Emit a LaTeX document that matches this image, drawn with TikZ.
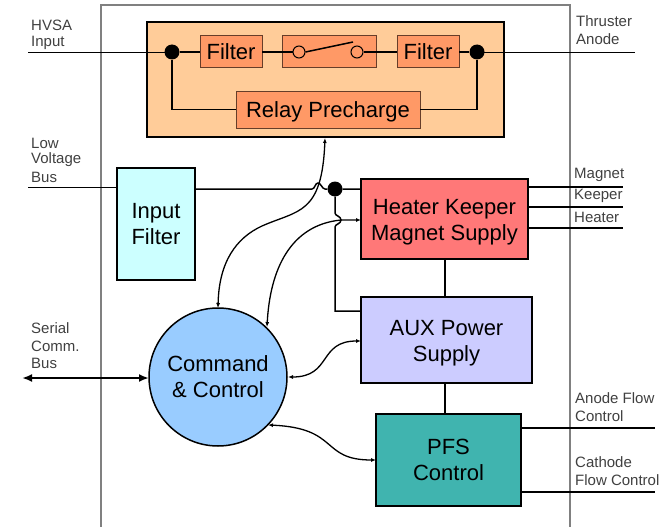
\documentclass[tikz,border=0pt]{standalone}
\usepackage{fontspec}
\setmainfont{Liberation Sans}
\usetikzlibrary{arrows.meta}
\definecolor{outerc}{RGB}{255,204,153}
\definecolor{innerc}{RGB}{255,153,102}
\definecolor{heaterc}{RGB}{255,120,120}
\definecolor{auxc}{RGB}{204,204,255}
\definecolor{pfsc}{RGB}{64,180,175}
\definecolor{circc}{RGB}{153,204,255}
\definecolor{inpc}{RGB}{204,255,255}
\tikzset{
 x=1pt,y=-1pt,
 boxa/.style={draw=black,line width=1.5pt,inner sep=0pt,outer sep=0pt,align=center},
 boxb/.style={draw=black!60!innerc,line width=1pt,fill=innerc,inner sep=0pt,outer sep=0pt,align=center,font=\fontsize{22}{26}\selectfont},
 bigtxt/.style={font=\fontsize{22}{26}\selectfont},
 lowtxt/.style={font=\fontsize{22}{26}\selectfont,align=center,inner sep=0pt,yshift=-3pt},
 lab/.style={inner sep=0pt,anchor=west,font=\fontsize{15}{17}\selectfont,text=black!75},
 wire/.style={line width=1.5pt,draw=black},
 dotn/.style={circle,fill=black,draw=none,minimum size=15pt,inner sep=0pt},
 swc/.style={circle,draw=black,line width=1pt,fill=innerc,minimum size=12pt,inner sep=0pt},
 sarrow/.style={line width=1.3pt,{Latex[length=5pt,width=4pt]}-{Latex[length=5pt,width=4pt]}},
}
\begin{document}
\begin{tikzpicture}
\useasboundingbox (0,0) rectangle (672,527);
\coordinate (fl) at (101,527); \coordinate (ftl) at (101,5); \coordinate (ftr) at (570,5); \coordinate (fr) at (570,527);
\draw[line width=1.3pt,draw=black!50] (fl) -- (ftl) -- (ftr) -- (fr);
% relay assembly
\coordinate (hin) at (28,52.5); \coordinate (tout) at (635,52.5);
\node[boxa,fill=outerc,minimum width=357pt,minimum height=115pt,anchor=north west] (relay) at (147,22) {};
\node[boxb,minimum width=62pt,minimum height=32pt,anchor=north west] (f1) at (200,36) {Filter};
\node[boxb,minimum width=94pt,minimum height=32pt,anchor=north west] (sw) at (282,36) {};
\node[boxb,minimum width=62pt,minimum height=32pt,anchor=north west] (f2) at (397,36) {Filter};
\node[boxb,minimum width=184pt,minimum height=37pt,anchor=north west,label={[lowtxt,yshift=1pt]center:Relay Precharge}] (pre) at (236,91) {};
\node[dotn] (d1) at (172,52) {};
\node[dotn] (d2) at (477,52) {};
\node[swc] (s1) at (299,52) {};
\node[swc] (s2) at (357,52) {};
\draw[wire] (hin) -- (d1 |- hin);
\draw[wire] (d2 |- tout) -- (tout);
\draw[wire] (d1) -- (f1);
\draw[wire] (f1) -- (s1);
\draw[wire] (s2) -- (f2);
\draw[wire] (f2) -- (d2);
\coordinate (swtip) at (353,42);
\draw[wire] (s1.east) -- (swtip);
\draw[wire] (d1) |- (pre);
\draw[wire] (d2) |- (pre);
% main boxes
\node[boxa,fill=inpc,minimum width=78pt,minimum height=112pt,anchor=north west,bigtxt] (inp) at (117,168) {Input\\Filter};
\node[boxa,fill=heaterc,minimum width=167pt,minimum height=80pt,anchor=north west,label={[lowtxt]center:Heater Keeper\\Magnet Supply}] (heat) at (361,179) {};
\node[boxa,fill=auxc,minimum width=171pt,minimum height=86pt,anchor=north west,label={[lowtxt]center:AUX Power\\Supply}] (aux) at (361,297) {};
\node[boxa,fill=pfsc,minimum width=145pt,minimum height=92pt,anchor=north west,bigtxt] (pfs) at (376,414) {PFS\\Control};
\node[boxa,circle,fill=circc,minimum size=138pt,bigtxt] (cc) at (218,377) {Command\\\&\ Control};
\node[dotn] (d3) at (335,189) {};
% wiring
\coordinate (lin) at (28,187.5);
\coordinate (h1) at (312,189); \coordinate (h2) at (325,189);
\draw[wire] (lin) -- (inp.west |- lin);
\draw[wire] (inp.east |- h1) -- (h1) .. controls (315,189) and (315,183) .. (318,183) .. controls (321,183) and (322,189) .. (h2) -- (d3) -- (heat.west |- d3);
\coordinate (v1) at (335,213); \coordinate (v2) at (335,227); \coordinate (vb) at (335,311);
\draw[wire] (d3) -- (v1) .. controls (335,216) and (341,216) .. (341,220) .. controls (341,224) and (335,224) .. (v2) -- (vb) -- (aux.west |- vb);
\coordinate (va) at (445,259); \coordinate (vc) at (445,297); \coordinate (vd) at (445,383); \coordinate (ve) at (445,414);
\draw[wire] (va) -- (vc);
\draw[wire] (vd) -- (ve);
% right wires
\coordinate (mg) at (623,187); \coordinate (kp) at (623,207); \coordinate (ht) at (623,228);
\draw[wire] (heat.east |- mg) -- (mg);
\draw[wire] (heat.east |- kp) -- (kp);
\draw[wire] (heat.east |- ht) -- (ht);
\coordinate (af) at (655,428); \coordinate (cf) at (655,492);
\draw[wire] (pfs.east |- af) -- (af);
\draw[wire] (pfs.east |- cf) -- (cf);
% curved control lines
\coordinate (ctop) at (218,308); \coordinate (rb) at (325,138);
\draw[sarrow] (ctop) .. controls (219,262) and (236,238) .. (262,226) .. controls (298,210) and (322,215) .. (rb);
\coordinate (cr) at (267,327); \coordinate (hw) at (361,220);
\draw[sarrow] (cr) .. controls (270,270) and (290,225) .. (341,220) -- (hw);
\coordinate (c3) at (288,377);
\coordinate (ax) at (361,341);
\draw[sarrow] (c3) .. controls (332,377) and (318,341) .. (ax);
\coordinate (c4) at (268,425);
\coordinate (px) at (376,460);
\draw[sarrow] (c4) .. controls (340,428) and (320,460) .. (px);
\coordinate (sb) at (22,378);
\draw[line width=2.6pt,{Latex[length=10pt,width=8pt]}-{Latex[length=10pt,width=8pt]}] (sb) -- (cc.west |- sb);
% labels
\node[lab] (l1a) at (31,25) {HVSA};
\node[lab] (l1b) at (31,43) {Input};
\node[lab] (l2a) at (576,21) {Thruster};
\node[lab] (l2b) at (576,39) {Anode};
\node[lab] (l3a) at (31,143) {Low};
\node[lab] (l3b) at (31,160) {Voltage};
\node[lab] (l3c) at (31,177) {Bus};
\node[lab] (l4) at (574,175) {Magnet};
\node[lab] (l5) at (574,196) {Keeper};
\node[lab] (l6) at (574,217) {Heater};
\node[lab] (l7a) at (31,328) {Serial};
\node[lab] (l7b) at (31,346) {Comm.};
\node[lab] (l7c) at (31,363) {Bus};
\node[lab] (l8a) at (575,398) {Anode Flow};
\node[lab] (l8b) at (575,416) {Control};
\node[lab] (l9a) at (575,462) {Cathode};
\node[lab] (l9b) at (575,480) {Flow Control};
\end{tikzpicture}
\end{document}
